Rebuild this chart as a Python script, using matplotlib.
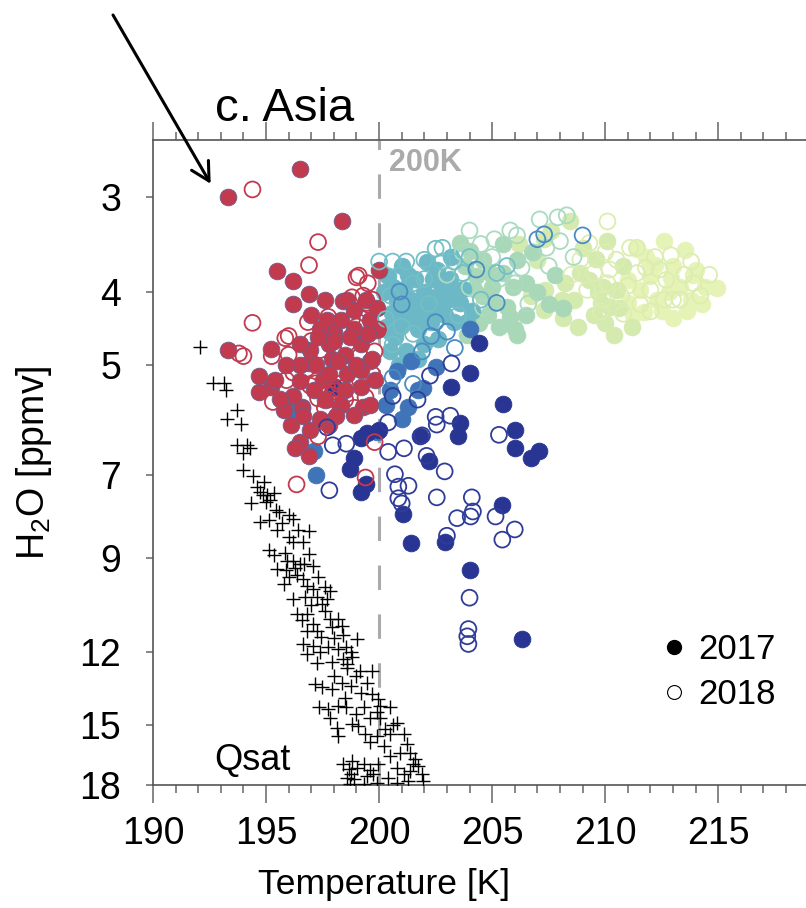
import numpy as np
import matplotlib
matplotlib.use("Agg")
import matplotlib.pyplot as plt
from matplotlib import font_manager
from matplotlib.lines import Line2D
from matplotlib.ticker import MultipleLocator, FixedLocator, NullLocator

# ---- data: (temperature [K], H2O [ppmv]) ----
# 2017 (filled)
red17 = [(193.3, 3.00), (196.5, 2.75), (198.35, 3.23), (195.5, 3.76), (196.2, 3.87), (196.9, 4.03),
         (196.2, 4.16), (198.4, 4.12), (200.0, 3.74), (193.3, 4.78), (195.2, 4.76), (194.7, 5.17),
         (197.7, 4.36), (198.6, 4.10), (196.95, 4.78), (196.9, 4.98), (197.9, 4.91), (198.0, 4.53),
         (199.6, 4.95), (198.6, 5.15), (197.5, 5.24), (196.5, 5.26), (195.2, 5.35), (196.6, 5.68),
         (199.2, 5.35), (194.7, 5.44), (196.1, 6.00), (196.6, 5.71), (196.65, 5.85), (196.5, 6.33),
         (196.9, 6.60), (196.3, 6.45), (199.3, 5.68), (197.4, 4.49), (198.3, 4.36), (198.9, 4.49),
         (197.8, 4.70), (196.5, 4.70), (198.5, 4.85), (199.2, 4.70), (199.6, 4.36), (199.4, 4.10),
         (197.6, 4.10), (198.9, 4.23), (196.5, 5.00), (197.2, 5.00), (197.8, 5.15), (198.5, 5.40),
         (199.2, 5.08), (199.8, 5.24), (199.6, 5.65), (198.9, 5.82), (198.3, 5.65), (197.6, 5.56),
         (195.8, 5.74), (195.4, 5.24), (196.95, 6.10), (197.8, 6.00), (199.7, 4.92), (198.0, 4.65),
         (197.3, 4.60), (199.0, 5.00), (198.2, 4.95), (199.9, 4.50), (199.9, 4.20), (195.9, 5.00),
         (198.7, 4.60), (197.1, 5.40), (196.2, 5.50), (195.6, 5.55), (198.1, 5.85), (197.0, 4.30),
         (199.5, 4.55), (197.4, 5.90)]
navy17 = [(204.0, 5.12), (203.2, 5.35), (205.5, 5.63), (203.6, 5.97), (203.5, 6.22), (201.8, 6.22),
          (206.0, 6.10), (206.0, 6.44), (207.05, 6.50), (206.7, 6.65), (202.2, 6.71), (205.45, 7.67),
          (201.05, 7.88), (201.4, 8.62), (202.9, 8.57), (204.0, 9.36), (206.3, 11.53), (204.4, 4.68),
          (199.4, 7.20), (199.2, 7.37), (198.7, 6.86), (198.9, 6.65), (199.2, 6.25), (199.45, 6.16),
          (200.0, 6.10), (198.0, 5.35)]
blue17 = [(196.2, 5.76), (197.1, 6.50), (197.2, 7.00), (201.3, 5.68), (201.7, 5.40), (201.95, 5.37),
          (202.5, 5.03), (199.9, 6.13), (200.5, 5.40), (201.0, 5.90), (200.3, 5.65), (204.0, 4.49),
          (200.8, 5.10), (201.4, 4.95)]
teal17 = [(200.4, 3.82), (201.1, 3.97), (200.8, 4.12), (200.55, 4.27), (201.0, 4.23), (201.4, 4.10),
          (201.6, 3.85), (202.1, 3.65), (201.8, 4.23), (202.3, 4.39), (201.7, 4.49), (200.5, 4.52),
          (200.7, 4.60), (201.2, 4.39), (202.1, 4.10), (202.8, 3.97), (202.55, 3.74), (203.15, 3.85),
          (203.0, 4.10), (203.6, 4.14), (203.9, 4.39), (203.3, 4.39), (203.7, 3.97), (200.5, 4.80),
          (201.2, 4.80), (201.7, 4.91), (202.6, 4.62), (201.0, 3.70), (202.0, 4.00), (202.4, 4.20),
          (200.2, 4.00), (200.3, 4.45), (200.9, 4.45), (201.5, 4.25), (202.6, 4.05), (203.2, 3.60),
          (202.9, 4.30), (201.3, 3.80), (200.6, 3.95), (202.0, 4.70), (203.5, 4.00), (204.1, 4.25),
          (200.9, 5.00), (201.9, 4.35), (202.4, 3.85)]
green17 = [(203.9, 4.56), (204.0, 3.54), (204.2, 3.97), (204.6, 4.06), (205.1, 4.14), (205.65, 4.19),
           (205.8, 4.32), (206.0, 4.49), (206.1, 4.56), (204.6, 3.63), (204.9, 3.78), (205.5, 3.78),
           (205.5, 3.46), (206.1, 3.63), (207.5, 4.16), (208.15, 4.21), (204.3, 3.82), (203.8, 3.70),
           (205.0, 3.95), (206.5, 3.90), (204.8, 4.30), (205.3, 4.45), (206.5, 4.30), (207.0, 4.00),
           (206.8, 3.55), (205.9, 3.95), (204.4, 4.40), (207.8, 3.80), (203.6, 3.45)]
pale17 = [(206.7, 4.06), (207.3, 4.23), (206.2, 3.46), (207.3, 3.41), (207.0, 3.63), (208.45, 3.23),
          (208.1, 4.10), (208.15, 4.34), (209.8, 4.14), (210.2, 4.19), (210.4, 4.56), (209.6, 3.62),
          (208.9, 3.78), (209.3, 3.86), (208.6, 4.10), (207.35, 3.98), (207.6, 3.33), (209.9, 3.94),
          (210.5, 3.98), (210.1, 3.43), (208.8, 4.45), (209.5, 4.30), (209.0, 3.50), (210.8, 3.70),
          (210.0, 4.40), (208.2, 3.90), (209.7, 4.00), (210.6, 4.20), (211.2, 4.45)]
yellow17 = [(212.6, 3.43), (213.55, 3.52), (214.95, 3.96), (213.8, 4.10), (213.0, 4.34), (211.25, 4.30),
            (211.7, 4.26), (212.2, 3.69), (212.0, 3.70), (211.4, 3.51), (211.0, 3.86), (212.0, 3.82),
            (212.9, 3.84), (213.3, 3.94), (212.3, 4.10), (211.0, 4.14), (211.55, 3.98), (214.0, 3.75),
            (214.4, 3.95), (212.5, 4.25), (213.6, 4.25), (214.3, 4.15), (213.0, 3.70), (211.8, 3.60),
            (213.9, 3.80), (212.8, 4.00)]

# 2018 (open)
red18 = [(194.4, 2.93), (197.3, 3.44), (196.9, 3.69), (194.4, 4.40), (196.85, 4.39), (199.1, 3.81),
         (199.5, 3.90), (198.8, 4.07), (199.3, 4.05), (199.5, 4.16), (193.8, 4.83), (194.0, 4.87),
         (195.25, 4.87), (195.85, 4.61), (196.0, 4.58), (199.0, 3.83), (199.45, 4.14), (199.4, 4.21),
         (196.8, 5.06), (196.2, 5.12), (198.6, 4.68), (199.0, 4.45), (197.5, 4.49), (197.75, 4.32),
         (199.15, 4.87), (198.3, 5.12), (197.2, 5.29), (195.9, 5.24), (197.3, 5.54), (197.75, 5.56),
         (199.15, 5.24), (199.4, 5.52), (197.3, 6.22), (196.35, 7.20), (199.4, 7.05), (199.8, 6.33),
         (197.6, 5.70), (198.05, 5.42), (198.5, 5.56), (197.4, 4.78), (196.95, 5.33), (199.7, 4.10),
         (199.95, 4.49), (199.8, 4.80), (199.7, 5.15), (198.0, 5.38), (197.9, 5.48), (198.2, 5.30),
         (197.7, 5.35), (196.0, 4.85), (198.9, 5.70), (195.3, 5.60), (197.0, 4.65), (198.8, 4.35)]
navy18 = [(202.5, 5.86), (203.15, 5.84), (202.55, 6.00), (205.3, 6.19), (200.4, 6.52), (201.1, 6.45),
          (202.1, 6.60), (202.9, 6.92), (200.7, 6.98), (200.85, 7.25), (201.3, 7.23), (200.85, 7.51),
          (201.0, 7.63), (202.55, 7.49), (204.1, 7.49), (203.45, 7.98), (204.05, 7.94), (204.15, 7.82),
          (205.15, 7.94), (206.0, 8.26), (205.45, 8.52), (203.0, 8.42), (204.0, 10.17), (203.95, 11.19),
          (203.9, 11.44), (203.95, 11.71), (203.2, 4.98), (202.25, 5.17), (201.7, 5.56), (200.4, 5.96),
          (197.8, 7.33), (197.95, 6.39), (198.55, 6.36), (197.7, 6.05), (200.6, 5.50), (201.9, 6.20)]
blue18 = [(200.9, 4.00), (201.0, 4.16), (202.5, 4.39), (203.0, 4.52), (202.3, 4.58), (203.35, 4.75),
          (204.3, 3.74), (205.2, 4.14), (207.0, 3.41), (209.0, 3.37), (207.3, 3.36), (201.9, 4.80),
          (200.6, 5.20), (201.5, 5.30)]
teal18 = [(200.0, 3.65), (200.6, 3.65), (201.2, 3.65), (202.0, 3.63), (202.5, 3.51), (202.8, 3.50),
          (202.8, 3.65), (203.3, 3.65), (203.7, 3.78), (205.2, 3.78), (205.65, 3.70), (204.5, 4.10),
          (200.3, 4.35), (201.5, 4.55), (200.6, 4.70), (201.5, 3.90), (202.2, 4.15), (200.5, 4.05),
          (201.0, 4.45), (203.5, 4.30), (202.0, 3.85), (204.0, 3.60)]
green18 = [(204.0, 3.32), (204.5, 3.46), (205.1, 3.41), (205.8, 3.32), (206.1, 3.37), (207.1, 3.21),
           (207.9, 3.19), (208.3, 3.17), (208.0, 3.43), (207.4, 3.50), (208.6, 3.60), (203.0, 3.80),
           (204.0, 3.95), (206.3, 3.72), (205.0, 3.60), (206.8, 3.55), (206.0, 3.90), (207.5, 3.70),
           (205.3, 3.85), (204.6, 4.20), (203.7, 3.55), (206.6, 4.15)]
pale18 = [(210.1, 3.23), (211.4, 3.50), (212.2, 3.60), (213.8, 3.65), (214.6, 3.80), (213.9, 3.90),
          (213.0, 4.10), (212.7, 3.86), (212.0, 3.98), (211.4, 3.78), (210.5, 3.63), (210.2, 3.74),
          (209.5, 3.78), (209.2, 3.98), (209.9, 4.10), (210.7, 4.05), (211.55, 4.16), (212.6, 4.10),
          (213.3, 4.10), (210.8, 4.28), (210.1, 3.90), (208.9, 3.63), (211.1, 3.50), (212.4, 3.74),
          (208.5, 3.80), (209.3, 3.45), (210.0, 3.55), (211.0, 3.93), (212.0, 4.25), (213.5, 3.80),
          (214.2, 4.05), (211.8, 3.72), (209.8, 4.25), (212.9, 3.58)]

# saturation mixing ratio
qsat = [(192.08, 4.73), (192.67, 5.29), (193.14, 5.29), (193.23, 5.40), (193.73, 5.74), (193.26, 5.89),
        (193.88, 5.99), (193.73, 6.38), (194.17, 6.38), (193.97, 6.55), (194.29, 6.45), (194.41, 7.01),
        (194.62, 7.25), (194.73, 7.36), (194.85, 7.44), (194.32, 7.62), (195.06, 7.44), (195.35, 7.40),
        (195.18, 7.55), (195.44, 7.79), (195.59, 7.83), (194.73, 8.07), (195.15, 8.03), (195.47, 8.28),
        (196.21, 7.99), (196.43, 8.28), (196.18, 8.58), (196.65, 8.58), (195.15, 8.80), (195.84, 8.87),
        (195.35, 8.94), (195.94, 9.08), (196.21, 9.08), (196.5, 9.17), (196.68, 9.17), (197.09, 9.22),
        (195.47, 9.31), (195.88, 9.36), (196.03, 9.55), (196.36, 9.50), (195.8, 9.75), (196.62, 9.60),
        (196.8, 9.80), (197.09, 9.89), (197.61, 9.84), (197.83, 9.95), (196.21, 10.2), (196.73, 10.15),
        (197.24, 10.15), (197.46, 10.36), (196.36, 10.68), (196.83, 10.70), (196.58, 10.90),
        (197.09, 11.01), (197.83, 10.85), (198.2, 10.85), (198.35, 11.07), (196.8, 11.24),
        (197.24, 11.24), (197.42, 11.45), (197.9, 11.13), (198.42, 11.41), (199.01, 11.53),
        (196.65, 11.71), (197.09, 11.77), (197.38, 12.01), (197.76, 11.83), (198.2, 11.89),
        (198.54, 11.83), (198.76, 12.01), (196.8, 12.07), (197.24, 12.42), (197.9, 12.38),
        (198.42, 12.26), (198.57, 12.45), (199.16, 12.71), (199.67, 12.71), (197.17, 13.24),
        (197.46, 13.37), (197.9, 13.44), (198.35, 13.17), (198.76, 13.30), (199.45, 13.17),
        (199.67, 13.64), (199.97, 13.85), (197.32, 14.21), (197.76, 14.28), (198.2, 14.14),
        (198.54, 14.21), (199.31, 14.21), (199.6, 14.66), (200.04, 14.14), (200.49, 14.21),
        (197.83, 14.66), (198.12, 15.11), (198.79, 14.96), (198.2, 15.50), (199.08, 15.03),
        (200.04, 14.66), (200.27, 15.18), (199.38, 15.42), (199.89, 15.50), (200.49, 15.42),
        (200.78, 14.88), (201.08, 15.42), (201.23, 15.90), (200.93, 16.31), (201.37, 16.31),
        (201.59, 16.64), (200.49, 16.48), (200.78, 17.08), (201.08, 17.43), (201.37, 17.25),
        (201.5, 16.90), (201.88, 17.43), (201.95, 17.78), (198.42, 16.90), (198.79, 16.73),
        (198.65, 17.16), (199.01, 17.08), (199.31, 16.90), (198.57, 17.60), (198.76, 17.43),
        (199.45, 17.51), (199.71, 17.43), (199.97, 16.90), (198.72, 17.96), (199.31, 17.96),
        (199.89, 17.87), (200.78, 17.87), (195.0, 7.60), (195.7, 8.10), (196.0, 8.45), (196.9, 8.90),
        (196.3, 9.30), (197.3, 9.55), (197.0, 10.4), (197.6, 10.6), (198.0, 11.5), (198.6, 12.6),
        (199.0, 12.9), (198.0, 12.9), (199.2, 13.6), (198.5, 13.8), (199.9, 14.4), (199.0, 14.5),
        (200.6, 15.0), (199.6, 15.8), (200.2, 16.0), (201.7, 17.0), (200.4, 17.6), (201.3, 17.8),
        (198.9, 17.7), (199.6, 17.2), (194.0, 6.9), (194.9, 7.15), (196.0, 7.9), (196.9, 8.3),
        (197.7, 10.2), (198.8, 12.2)]

yticks = [3, 4, 5, 7, 9, 12, 15, 18]

# fonts
names = {f.name for f in font_manager.fontManager.ttflist}
narrow = 'Liberation Sans Narrow' if 'Liberation Sans Narrow' in names else 'Liberation Sans'
plt.rcParams['font.family'] = ['Liberation Sans', 'DejaVu Sans']
plt.rcParams['mathtext.fontset'] = 'custom'
plt.rcParams['mathtext.rm'] = narrow

fig = plt.figure(figsize=(8.06, 9.08), dpi=100)
ax = fig.add_axes([153 / 806, 123 / 908, 667 / 806, 645 / 908])

ax.axvline(200, color='#aaaaaa', lw=2.2, ls=(0, (8, 8)), zorder=0)

filled = [(yellow17, '#e6f3b6'), (pale17, '#d4eaaf'), (green17, '#a9d8b8'), (teal17, '#6cb8c6'),
          (blue17, '#3f74b8'), (navy17, '#283593'), (red17, '#c23a4e')]
hollow = [(pale18, '#dcedb0'), (green18, '#a9dbc0'), (teal18, '#72bfc8'), (blue18, '#4a8cc2'),
          (navy18, '#2f3d99'), (red18, '#c23a4e')]

for pts, col in filled:
    t, h = np.array(pts).T
    ec = '#6a5f8f' if col == '#c23a4e' else col
    ax.scatter(t, h, s=145, c=col, edgecolors=ec, linewidths=0.6, zorder=2)
for pts, col in hollow:
    t, h = np.array(pts).T
    ax.scatter(t, h, s=130, facecolors='none', edgecolors=col, linewidths=1.3, zorder=3)

qt, qh = np.array(qsat).T
ax.scatter(qt, qh, s=110, marker='+', c='black', linewidths=1.0, zorder=4)

ax.set_yscale('log')
ax.set_xlim(190, 219.5)
ax.set_ylim(18, 2.52)

ax.yaxis.set_major_locator(FixedLocator(yticks))
ax.yaxis.set_minor_locator(NullLocator())
ax.set_yticklabels([str(v) for v in yticks])
ax.xaxis.set_major_locator(MultipleLocator(5))
ax.xaxis.set_minor_locator(MultipleLocator(1))

for s in ax.spines.values():
    s.set_color('#555555')
    s.set_linewidth(1.2)
ax.spines['right'].set_visible(False)

ax.tick_params(axis='x', which='major', direction='out', top=True, length=13, width=1.1,
               color='#666666', labelsize=27, pad=9)
ax.tick_params(axis='x', which='minor', direction='out', top=True, length=6, width=1.1, color='#666666')
ax.tick_params(axis='y', which='major', direction='out', length=5, width=1.1, color='#666666',
               labelsize=27, pad=18)
for lab in ax.get_xticklabels() + ax.get_yticklabels():
    lab.set_family(narrow)

ax.set_xlabel('Temperature [K]', fontsize=25.5, family=narrow)
ax.xaxis.set_label_coords(0.347, -0.128)
ax.set_ylabel('H$_2$O [ppmv]', fontsize=27, family=narrow)
ax.yaxis.set_label_coords(-0.148, 0.5)

ax.text(0.093, 1.03, 'c. Asia', transform=ax.transAxes, fontsize=34, ha='left', va='baseline')
ax.text(200.45, 2.70, '200K', color='#aaaaaa', fontsize=22, fontweight='bold', ha='left', va='center')
ax.text(192.7, 16.7, 'Qsat', fontsize=26, ha='left', va='center')

ax.annotate('', xy=(192.55, 2.88), xycoords='data', xytext=(113 / 806, 1 - 15 / 908),
            textcoords='figure fraction', annotation_clip=False,
            arrowprops=dict(arrowstyle='->,head_length=1.3,head_width=0.7', lw=2.2, color='black',
                            shrinkA=0, shrinkB=0))

handles = [Line2D([], [], ls='none', marker='o', ms=10, mfc='black', mec='black'),
           Line2D([], [], ls='none', marker='o', ms=10, mfc='none', mec='black', mew=0.8)]
fig.legend(handles, ['2017', '2018'], loc='upper left', bbox_to_anchor=(664 / 806, 1 - 633 / 908),
           frameon=False, fontsize=25, handlelength=0.6, handletextpad=0.4, labelspacing=0.35,
           borderpad=0, borderaxespad=0)

fig.savefig('out.png', dpi=100)
